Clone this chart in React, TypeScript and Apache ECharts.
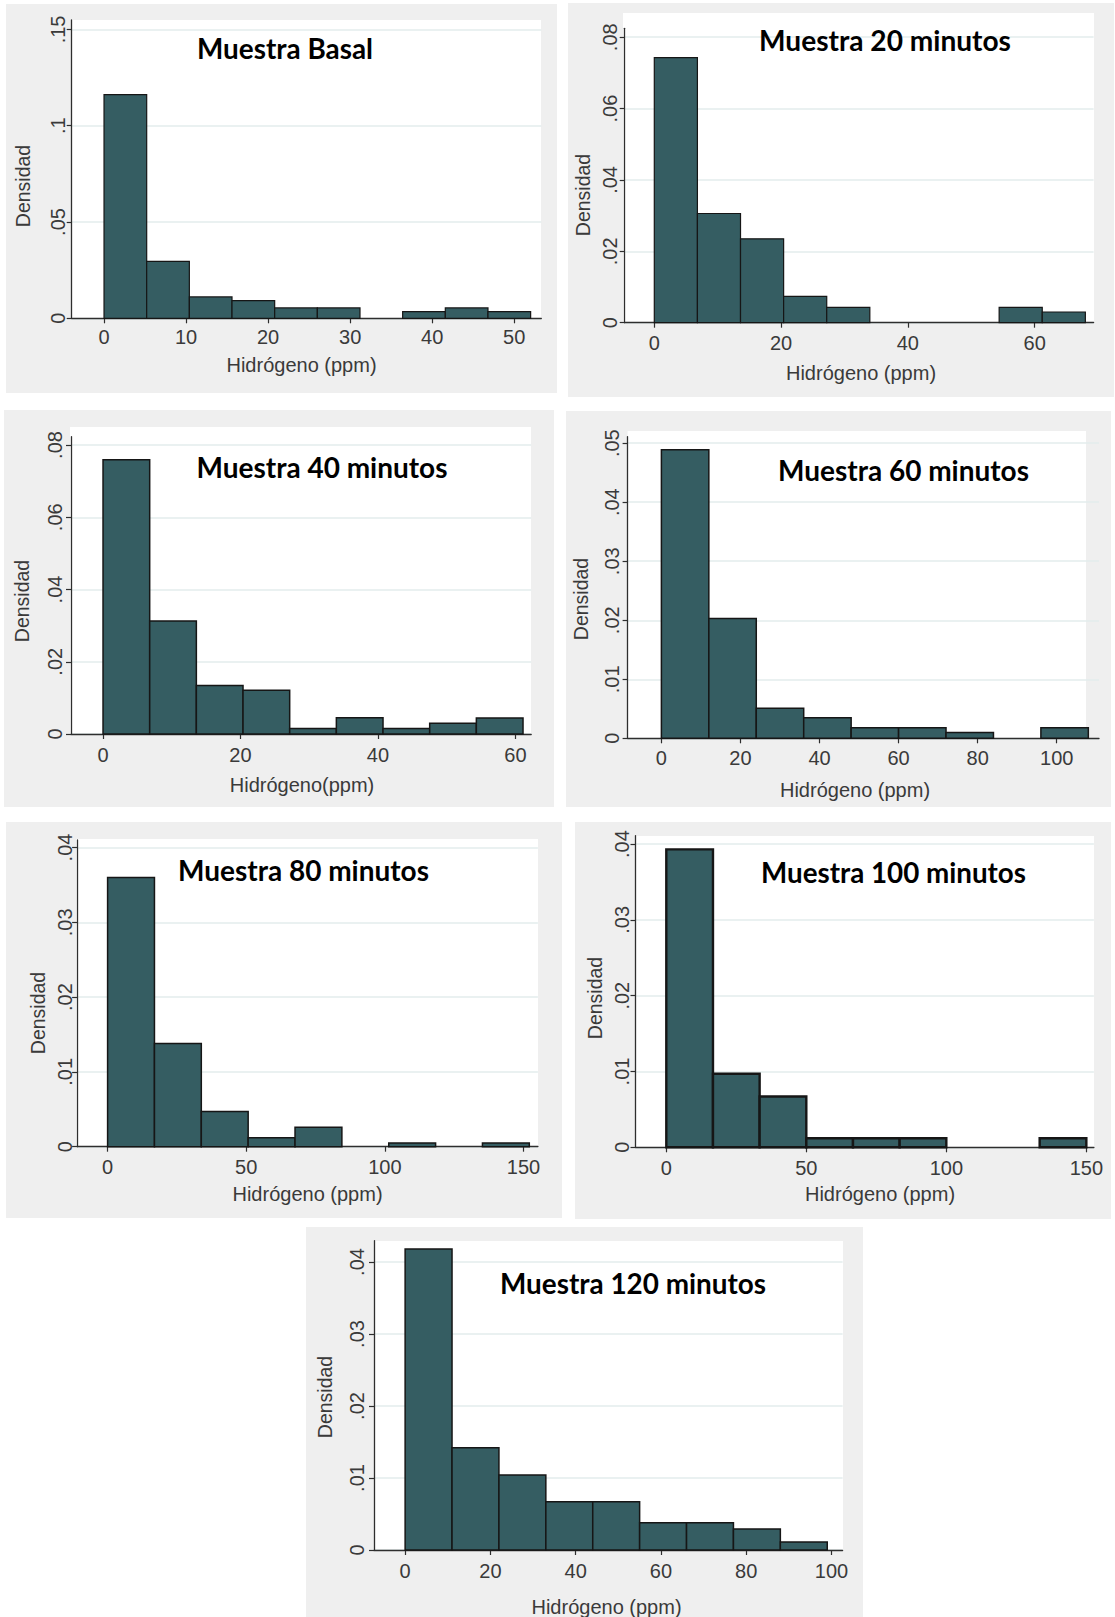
import React, { useEffect, useRef } from 'react';
import * as echarts from 'echarts';

// ---------------- data ----------------
const basalEdges = [0, 5.2, 10.4, 15.6, 20.8, 26, 31.2, 36.4, 41.6, 46.8, 52];
const basalDensity = [0.1162, 0.0296, 0.0111, 0.0092, 0.0054, 0.0054, 0, 0.0035, 0.0054, 0.0035];
const basalXTicks = [0, 10, 20, 30, 40, 50];
const basalYTicks = [0, 0.05, 0.1, 0.15];

const m20Edges = [0, 6.8, 13.6, 20.4, 27.2, 34, 40.8, 47.6, 54.4, 61.2, 68];
const m20Density = [0.0743, 0.0306, 0.0235, 0.0074, 0.0043, 0, 0, 0, 0.0043, 0.003];
const m20XTicks = [0, 20, 40, 60];
const m20YTicks = [0, 0.02, 0.04, 0.06, 0.08];

const m40Edges = [0, 6.79, 13.58, 20.37, 27.16, 33.95, 40.74, 47.53, 54.32, 61.11];
const m40Density = [0.0759, 0.0313, 0.0134, 0.0121, 0.0015, 0.0045, 0.0015, 0.003, 0.0044];
const m40XTicks = [0, 20, 40, 60];
const m40YTicks = [0, 0.02, 0.04, 0.06, 0.08];

const m60Edges = [0, 12, 24, 36, 48, 60, 72, 84, 96, 108];
const m60Density = [0.0489, 0.0203, 0.0051, 0.0035, 0.0018, 0.0018, 0.001, 0, 0.0018];
const m60XTicks = [0, 20, 40, 60, 80, 100];
const m60YTicks = [0, 0.01, 0.02, 0.03, 0.04, 0.05];

const m80Edges = [0, 16.9, 33.8, 50.7, 67.6, 84.5, 101.4, 118.3, 135.2, 152.1];
const m80Density = [0.036, 0.0138, 0.0047, 0.0012, 0.0026, 0, 0.0005, 0, 0.0005];
const m80XTicks = [0, 50, 100, 150];
const m80YTicks = [0, 0.01, 0.02, 0.03, 0.04];

const m100Edges = [0, 16.67, 33.33, 50, 66.67, 83.33, 100, 116.67, 133.33, 150];
const m100Density = [0.0393, 0.0097, 0.0067, 0.0012, 0.0012, 0.0012, 0, 0, 0.0012];
const m100XTicks = [0, 50, 100, 150];
const m100YTicks = [0, 0.01, 0.02, 0.03, 0.04];

const m120Edges = [0, 11, 22, 33, 44, 55, 66, 77, 88, 99];
const m120Density = [0.0418, 0.0142, 0.0104, 0.0067, 0.0067, 0.0038, 0.0038, 0.0029, 0.0011];
const m120XTicks = [0, 20, 40, 60, 80, 100];
const m120YTicks = [0, 0.01, 0.02, 0.03, 0.04];

const titles = [
  'Muestra Basal',
  'Muestra 20 minutos',
  'Muestra 40 minutos',
  'Muestra 60 minutos',
  'Muestra 80 minutos',
  'Muestra 100 minutos',
  'Muestra 120 minutos',
];
const xNames = [
  'Hidrógeno (ppm)',
  'Hidrógeno (ppm)',
  'Hidrógeno(ppm)',
  'Hidrógeno (ppm)',
  'Hidrógeno (ppm)',
  'Hidrógeno (ppm)',
  'Hidrógeno (ppm)',
];
const yName = 'Densidad';

// ---------------- layout / style ----------------
const BAR = '#355d62';
const PANEL_BG = '#efefef';
const GRID_COLOR = '#e3eded';
const AXIS_COLOR = '#2e2e2e';
const TEXT_COLOR = '#3a3a3a';
const SANS = "'Liberation Sans', Arial, sans-serif";
const TICK_FONT = 20;
const NAME_FONT = 20;

type Layout = {
  bg: number[]; // x0,y0,x1,y1
  white: number[];
  grid: number[]; // left, top, right, bottom
  xMin: number;
  xMax: number;
  yMax: number;
  title: number[]; // cx, cy, width
  xName: number[]; // cx, cy
  yName: number[]; // cx, cy
  xMargin: number;
  yMargin: number;
  border: number;
};

const layouts: Layout[] = [
  { bg: [6, 4, 557, 393], white: [72, 20, 541, 318], grid: [71.7, 20, 541.3, 318.3], xMin: -3.94, xMax: 53.3, yMax: 0.1549,
    title: [285, 48, 176], xName: [301.5, 365], yName: [23, 186], xMargin: 8.5, yMargin: 4, border: 1.2 },
  { bg: [568, 3, 1114, 397], white: [623, 13, 1094, 323], grid: [624.7, 28.3, 1093.6, 322.7], xMin: -4.67, xMax: 69.3, yMax: 0.0825,
    title: [885, 40, 252], xName: [861, 373], yName: [583, 195], xMargin: 10.5, yMargin: 4.5, border: 1.2 },
  { bg: [4, 410, 554, 807], white: [70, 427, 531, 734], grid: [71, 436.7, 531.2, 734], xMin: -4.66, xMax: 62.3, yMax: 0.0823,
    title: [322, 467, 251], xName: [302, 785], yName: [21.5, 601], xMargin: 11, yMargin: 6.5, border: 1.5 },
  { bg: [566, 411, 1111, 807], white: [627.6, 431, 1086, 738], grid: [627.6, 436.7, 1099, 738.3], xMin: -8.55, xMax: 110.7, yMax: 0.0511,
    title: [903.5, 470, 251], xName: [855, 790], yName: [581, 599], xMargin: 9.5, yMargin: 5.5, border: 1.5 },
  { bg: [6, 822, 562, 1218], white: [76, 839, 538, 1147], grid: [77.1, 840, 537.9, 1146.7], xMin: -11, xMax: 155.2, yMax: 0.041,
    title: [303.5, 870, 251], xName: [307.5, 1194], yName: [37.5, 1013], xMargin: 10, yMargin: 2.5, border: 1.5 },
  { bg: [575, 822, 1111, 1219], white: [635.5, 836, 1094, 1147], grid: [635.5, 835.7, 1093.9, 1147.3], xMin: -11, xMax: 152.7, yMax: 0.0411,
    title: [893.5, 872, 265], xName: [880, 1194], yName: [595, 998], xMargin: 11, yMargin: 4, border: 2.4 },
  { bg: [306, 1227, 863, 1617], white: [374, 1241, 843, 1550], grid: [374, 1240.7, 842.6, 1550], xMin: -7.3, xMax: 102.6, yMax: 0.04296,
    title: [633, 1283, 266], xName: [606.5, 1606.5], yName: [325, 1397], xMargin: 10.5, yMargin: 7.5, border: 1.5 },
];

const panelData = [
  { edges: basalEdges, dens: basalDensity, xTicks: basalXTicks, yTicks: basalYTicks },
  { edges: m20Edges, dens: m20Density, xTicks: m20XTicks, yTicks: m20YTicks },
  { edges: m40Edges, dens: m40Density, xTicks: m40XTicks, yTicks: m40YTicks },
  { edges: m60Edges, dens: m60Density, xTicks: m60XTicks, yTicks: m60YTicks },
  { edges: m80Edges, dens: m80Density, xTicks: m80XTicks, yTicks: m80YTicks },
  { edges: m100Edges, dens: m100Density, xTicks: m100XTicks, yTicks: m100YTicks },
  { edges: m120Edges, dens: m120Density, xTicks: m120XTicks, yTicks: m120YTicks },
];

function fitFontSize(text: string, target: number): number {
  const c = document.createElement('canvas').getContext('2d');
  if (!c) return 27;
  c.font = "bold 100px Lato";
  const w = c.measureText(text).width;
  return w > 0 ? (100 * target) / w : 27;
}

function yFmt(v: number): string {
  if (Math.abs(v) < 1e-12) return '0';
  return parseFloat(v.toFixed(4)).toString().replace(/^0\./, '.');
}

function buildOption() {
  const grids: any[] = [];
  const xAxes: any[] = [];
  const yAxes: any[] = [];
  const series: any[] = [];
  const graphics: any[] = [];

  layouts.forEach((L, i) => {
    const pd = panelData[i];
    graphics.push({
      type: 'rect', z: -20, silent: true,
      shape: { x: L.bg[0], y: L.bg[1], width: L.bg[2] - L.bg[0], height: L.bg[3] - L.bg[1] },
      style: { fill: PANEL_BG },
    });
    graphics.push({
      type: 'rect', z: -10, silent: true,
      shape: { x: L.white[0], y: L.white[1], width: L.white[2] - L.white[0], height: L.white[3] - L.white[1] },
      style: { fill: '#ffffff' },
    });
    const fs = fitFontSize(titles[i], L.title[2]);
    graphics.push({
      type: 'text', z: 50, silent: true, x: L.title[0], y: L.title[1],
      style: {
        text: titles[i], fill: '#000000', fontFamily: 'Lato', fontWeight: 'bold', fontSize: fs,
        textAlign: 'center', textVerticalAlign: 'middle', align: 'center', verticalAlign: 'middle',
      },
    });
    graphics.push({
      type: 'text', z: 50, silent: true, x: L.xName[0], y: L.xName[1],
      style: {
        text: xNames[i], fill: TEXT_COLOR, fontFamily: SANS, fontSize: NAME_FONT,
        textAlign: 'center', textVerticalAlign: 'middle', align: 'center', verticalAlign: 'middle',
      },
    });
    graphics.push({
      type: 'text', z: 50, silent: true, x: L.yName[0], y: L.yName[1], rotation: Math.PI / 2,
      style: {
        text: yName, fill: TEXT_COLOR, fontFamily: SANS, fontSize: 19.5,
        textAlign: 'center', textVerticalAlign: 'middle', align: 'center', verticalAlign: 'middle',
      },
    });

    grids.push({
      left: L.grid[0], top: L.grid[1], width: L.grid[2] - L.grid[0], height: L.grid[3] - L.grid[1],
      show: false, containLabel: false, outerBoundsMode: 'none',
    });
    xAxes.push({
      type: 'value', gridIndex: i, min: L.xMin, max: L.xMax, position: 'bottom',
      axisLine: { show: true, onZero: false, lineStyle: { color: AXIS_COLOR, width: 1.3 } },
      axisTick: { show: true, length: 5, customValues: pd.xTicks, lineStyle: { color: AXIS_COLOR, width: 1.2 } },
      axisLabel: { show: true, customValues: pd.xTicks, margin: L.xMargin, fontSize: TICK_FONT, fontFamily: SANS, color: TEXT_COLOR },
      splitLine: { show: false },
    });
    yAxes.push({
      type: 'value', gridIndex: i, min: 0, max: L.yMax, position: 'left',
      axisLine: { show: true, onZero: false, lineStyle: { color: AXIS_COLOR, width: 1.3 } },
      axisTick: { show: true, length: 5, customValues: pd.yTicks, lineStyle: { color: AXIS_COLOR, width: 1.2 } },
      axisLabel: {
        show: true, customValues: pd.yTicks, rotate: 90, margin: L.yMargin, fontSize: TICK_FONT, fontFamily: SANS,
        color: TEXT_COLOR, formatter: (v: number) => yFmt(v),
      },
      splitLine: { show: true, lineStyle: { color: GRID_COLOR, width: 1.5 } },
    });

    const bins: number[][] = [];
    for (let k = 0; k < pd.dens.length; k++) {
      if (pd.dens[k] > 0) bins.push([pd.edges[k], pd.edges[k + 1], pd.dens[k]]);
    }
    const bw = L.border;
    series.push({
      type: 'custom', name: titles[i], xAxisIndex: i, yAxisIndex: i, clip: false,
      dimensions: ['from', 'to', 'density'],
      encode: { x: [0, 1], y: 2 },
      data: bins,
      renderItem: (_p: any, api: any) => {
        const a = api.coord([api.value(0), api.value(2)]);
        const b = api.coord([api.value(1), 0]);
        return {
          type: 'rect',
          shape: { x: a[0], y: a[1], width: b[0] - a[0], height: b[1] - a[1] },
          style: { fill: BAR, stroke: '#161616', lineWidth: bw },
        };
      },
    });
  });

  return {
    animation: false,
    backgroundColor: '#ffffff',
    grid: grids,
    xAxis: xAxes,
    yAxis: yAxes,
    series,
    graphic: { elements: graphics },
  };
}

export default function App() {
  const ref = useRef<HTMLDivElement>(null);
  useEffect(() => {
    if (!ref.current) return;
    const chart = echarts.init(ref.current, undefined, { renderer: 'svg', width: 1115, height: 1617 });
    chart.setOption(buildOption() as any);
    return () => chart.dispose();
  }, []);
  return (
    <div
      ref={ref}
      style={{ position: 'absolute', left: 0, top: 0, width: 1115, height: 1617, background: '#ffffff' }}
    />
  );
}
